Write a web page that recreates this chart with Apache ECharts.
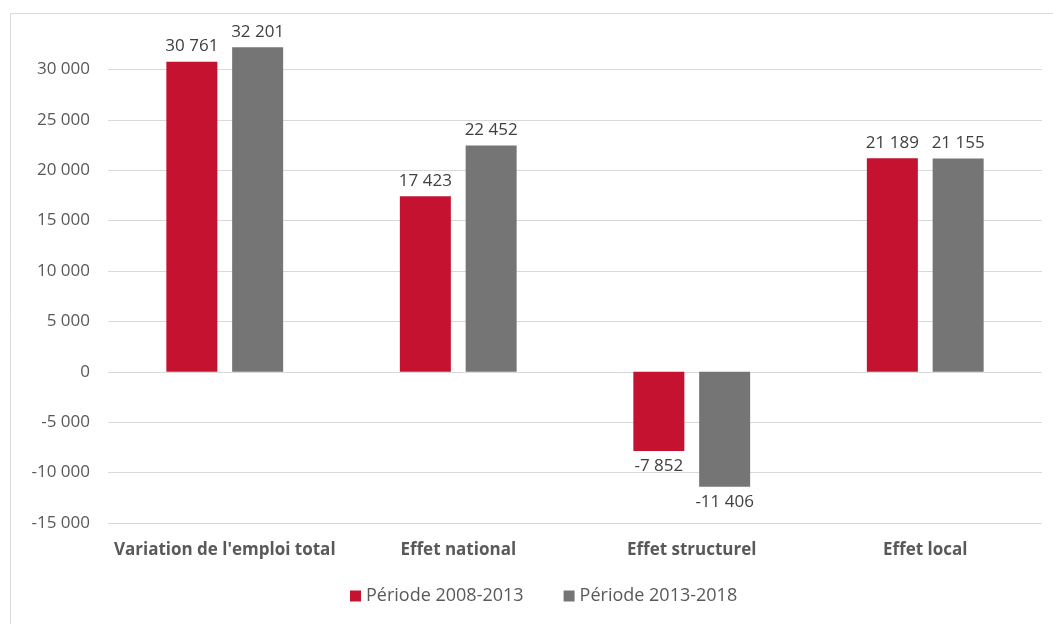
<!DOCTYPE html>
<html><head><meta charset="utf-8">
<script src="https://cdn.jsdelivr.net/npm/echarts@6/dist/echarts.min.js"></script>
<style>html,body{margin:0;padding:0;background:#fff}#c{width:1053px;height:624px}</style>
</head><body><div id="c"></div>
<script>
const categories = ["Variation de l'emploi total", "Effet national", "Effet structurel", "Effet local"];
const seriesNames = ["Période 2008-2013", "Période 2013-2018"];
const values2008 = [30761, 17423, -7852, 21189];
const values2013 = [32201, 22452, -11406, 21155];
const yTicks = [-15000, -10000, -5000, 0, 5000, 10000, 15000, 20000, 25000, 30000];

function fmt(v){
  const s = Math.abs(v).toString().replace(/\B(?=(\d{3})+(?!\d))/g, ' ');
  return (v < 0 ? '-' : '') + s;
}
function toData(arr){
  return arr.map(v => ({value: v, label: {position: v < 0 ? 'bottom' : 'top'}}));
}
const FONT = '"Open Sans", "Noto Sans", sans-serif';
const chart = echarts.init(document.getElementById('c'));
chart.setOption({
  animation: false,
  textStyle: {fontFamily: FONT},
  graphic: [{type: 'rect', shape: {x: 10.5, y: 13.5, width: 1060, height: 640}, style: {fill: 'none', stroke: '#d9d9d9', lineWidth: 1}, z: -1}],
  grid: {left: 108, right: 11, top: 19, bottom: 101, containLabel: false},
  legend: {
    bottom: 14, left: 345, itemWidth: 11, itemHeight: 11, itemGap: 40,
    icon: 'rect',
    textStyle: {color: '#595959', fontSize: 18, fontFamily: FONT},
    data: seriesNames
  },
  xAxis: {
    type: 'category', data: categories,
    axisLine: {show: false}, axisTick: {show: false},
    axisLabel: {color: '#595959', fontSize: 17, fontWeight: 'bold', margin: 19, fontFamily: FONT, interval: 0}
  },
  yAxis: {
    type: 'value', min: -15000, max: 35000, interval: 5000,
    axisLine: {show: false}, axisTick: {show: false},
    axisLabel: {color: '#595959', fontSize: 17, margin: 18, fontFamily: FONT,
      formatter: v => yTicks.indexOf(v) >= 0 ? fmt(v) : ''},
    splitLine: {lineStyle: {color: ['#d9d9d9','#d9d9d9','#d9d9d9','#d9d9d9','#d9d9d9','#d9d9d9','#d9d9d9','#d9d9d9','#d9d9d9','#d9d9d9','rgba(0,0,0,0)'], width: 1}}
  },
  series: [
    {name: seriesNames[0], type: 'bar', data: toData(values2008), barWidth: 51, barGap: '29%',
     itemStyle: {color: '#C41230'},
     label: {show: true, color: '#404040', fontSize: 17, distance: 7, formatter: p => fmt(p.value), fontFamily: FONT}},
    {name: seriesNames[1], type: 'bar', data: toData(values2013), barWidth: 51,
     itemStyle: {color: '#757575'},
     label: {show: true, color: '#404040', fontSize: 17, distance: 7, formatter: p => fmt(p.value), fontFamily: FONT}}
  ]
});
</script></body></html>
